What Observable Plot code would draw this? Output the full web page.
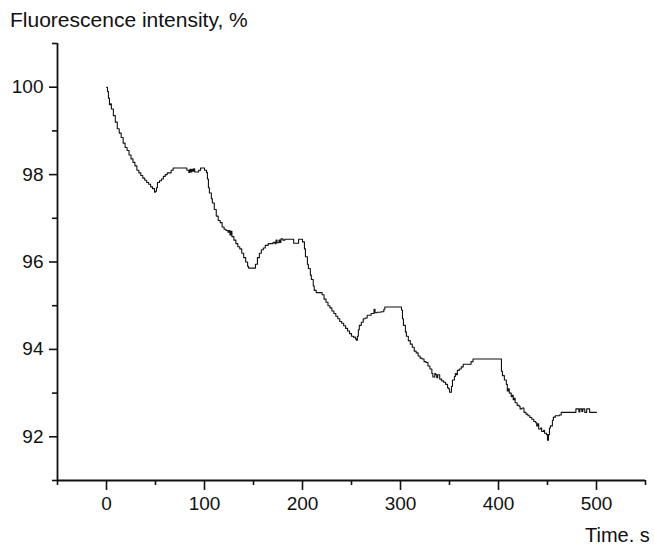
<!DOCTYPE html>
<html>
<head>
<meta charset="utf-8">
<script src="https://cdn.jsdelivr.net/npm/d3@7"></script>
<script src="https://cdn.jsdelivr.net/npm/@observablehq/plot@0.6"></script>
<style>
  html, body { margin: 0; padding: 0; background: #fff; }
  #wrap { position: relative; width: 654px; height: 546px; overflow: hidden; font-family: "Liberation Sans", Arial, sans-serif; color: #111; }
  #title { position: absolute; left: 10px; top: 8px; font-size: 21px; white-space: nowrap; }
  #xlabel { position: absolute; left: 585px; top: 524px; font-size: 20px; white-space: nowrap; }
  #chart { position: absolute; left: 0; top: 0; }
</style>
</head>
<body>
<div id="wrap">
  <div id="chart"></div>
  <div id="title">Fluorescence intensity, %</div>
  <div id="xlabel">Time. s</div>
</div>
<script>
const time = [0,1,2,3,4,5,7,9,11,13,15,17,19,21,23,25,27,29,31,33,35,37,39,41,43,45,47,49,50,51,52,54,56,58,60,62,64,66,68,72,76,80,82,84,85,86,87,88,89,90,92,94,96,98,100,102,103,104,105,107,108,110,112,114,116,118,120,122,124,125,126,127,128,130,132,134,136,138,140,142,144,145,150,152,154,156,158,160,162,165,168,170,172,173,174,176,177,178,180,182,186,190,191,194,196,198,200,202,203,205,206,208,209,211,212,214,218,220,222,224,226,228,230,232,234,236,238,240,242,244,246,248,250,252,254,255,256,257,258,260,262,264,266,268,270,272,273,274,276,278,280,282,283,284,290,296,300,301,302,303,305,306,308,310,312,314,316,318,320,322,324,326,328,330,332,333,335,336,337,338,340,342,344,346,348,349,350,352,353,355,356,357,358,360,362,364,366,370,372,374,380,390,400,402,403,404,406,408,409,410,411,413,414,415,416,417,419,421,422,424,426,428,430,432,434,436,438,439,440,441,443,444,446,447,449,450,451,452,453,455,456,458,460,462,464,470,476,478,479,481,482,483,485,486,488,490,492,493,496,500];
const intensity = [100.0,99.9,99.75,99.6,99.62,99.5,99.35,99.2,99.05,98.95,98.85,98.72,98.62,98.55,98.45,98.36,98.28,98.2,98.1,98.04,97.98,97.92,97.87,97.82,97.78,97.72,97.68,97.6,97.62,97.7,97.82,97.86,97.9,97.96,98.0,98.04,98.04,98.1,98.15,98.15,98.15,98.15,98.1,98.05,98.12,98.06,98.12,98.08,98.13,98.06,98.06,98.1,98.15,98.15,98.1,98.05,97.9,97.7,97.58,97.45,97.35,97.2,97.05,96.95,96.9,96.8,96.75,96.72,96.68,96.72,96.62,96.7,96.58,96.5,96.42,96.35,96.3,96.2,96.1,96.0,95.9,95.86,95.86,95.95,96.1,96.2,96.28,96.32,96.38,96.42,96.42,96.45,96.42,96.5,96.44,96.5,96.45,96.53,96.5,96.52,96.52,96.52,96.43,96.43,96.52,96.52,96.46,96.3,96.12,95.95,95.85,95.7,95.6,95.45,95.35,95.3,95.3,95.25,95.15,95.08,95.0,94.95,94.88,94.82,94.76,94.7,94.64,94.6,94.54,94.48,94.42,94.36,94.3,94.28,94.24,94.21,94.3,94.45,94.55,94.62,94.7,94.72,94.78,94.78,94.82,94.82,94.92,94.84,94.85,94.85,94.86,94.86,94.92,94.97,94.97,94.97,94.97,94.9,94.7,94.55,94.4,94.3,94.2,94.12,94.05,93.96,93.92,93.85,93.8,93.78,93.72,93.7,93.62,93.55,93.45,93.37,93.45,93.42,93.35,93.42,93.32,93.28,93.25,93.2,93.12,93.1,93.02,93.15,93.3,93.38,93.45,93.42,93.52,93.55,93.6,93.66,93.66,93.66,93.72,93.78,93.78,93.78,93.78,93.78,93.5,93.4,93.3,93.2,93.05,93.1,93.0,92.92,92.95,92.85,92.88,92.78,92.72,92.7,92.64,92.66,92.56,92.52,92.48,92.44,92.4,92.35,92.32,92.25,92.3,92.18,92.2,92.12,92.15,92.08,92.05,91.92,92.05,92.2,92.25,92.38,92.45,92.48,92.48,92.5,92.56,92.56,92.56,92.56,92.64,92.64,92.57,92.64,92.58,92.64,92.56,92.64,92.64,92.56,92.56,92.56];

const xMajor = [0, 100, 200, 300, 400, 500];
const xMinor = [-50, 50, 150, 250, 350, 450, 550];
const yMajor = [92, 94, 96, 98, 100];
const yMinor = [91, 93, 95, 97, 99, 101];

const data = time.map((t, i) => ({t, v: intensity[i]}));

const chart = Plot.plot({
  width: 654,
  height: 546,
  marginLeft: 57,
  marginRight: 9,
  marginTop: 43,
  marginBottom: 66,
  style: {fontFamily: "'Liberation Sans', Arial, sans-serif", fontSize: "19px", color: "#111", background: "#fff"},
  x: {domain: [-50, 550]},
  y: {domain: [91, 101]},
  marks: [
    Plot.axisX(xMajor, {tickSize: 10, tickPadding: 6, label: null, fontSize: 19, strokeWidth: 1.6}),
    Plot.axisX(xMinor, {tickSize: 5, tickFormat: () => "", label: null, strokeWidth: 1.6}),
    Plot.axisY(yMajor, {tickSize: 8, tickPadding: 6, label: null, fontSize: 19, strokeWidth: 1.6}),
    Plot.axisY(yMinor, {tickSize: 5, tickFormat: () => "", label: null, strokeWidth: 1.6}),
    Plot.ruleY([91], {strokeWidth: 1.8, stroke: "#111"}),
    Plot.ruleX([-50], {strokeWidth: 1.8, stroke: "#111"}),
    Plot.line(data, {x: "t", y: "v", curve: "step-after", stroke: "#111", strokeWidth: 1.1})
  ]
});
document.getElementById("chart").appendChild(chart);
</script>
</body>
</html>
